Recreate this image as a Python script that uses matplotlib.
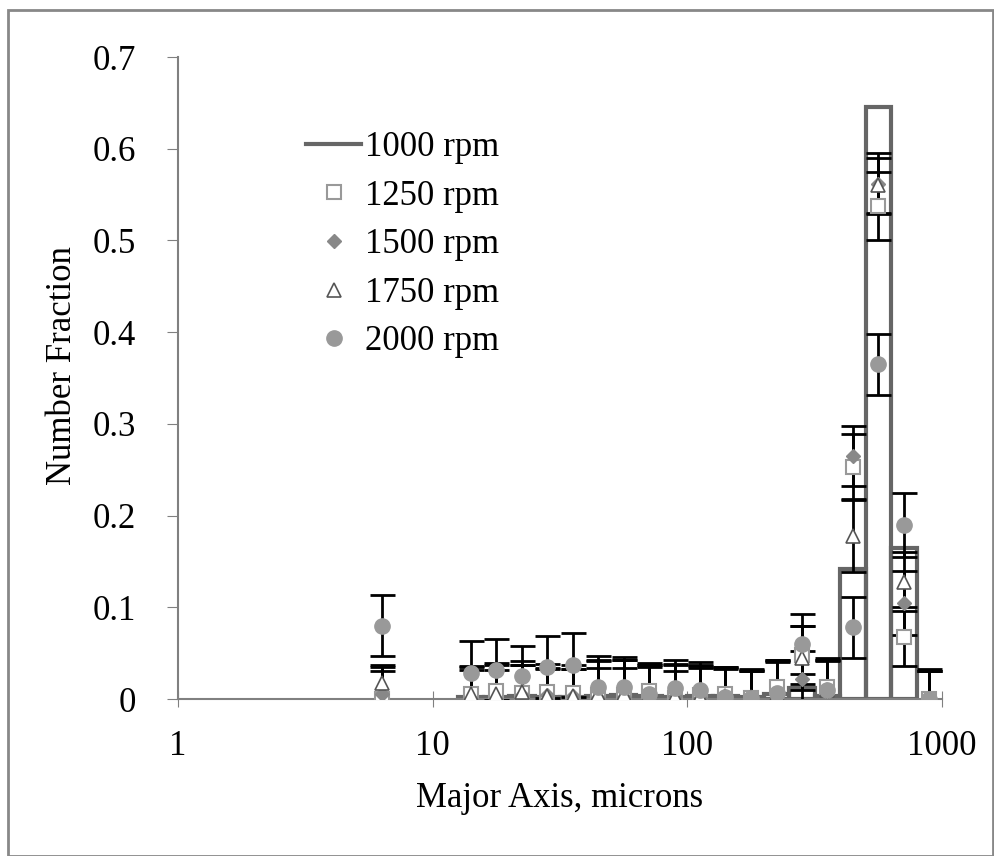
import numpy as np
import matplotlib.pyplot as plt
from matplotlib.patches import Rectangle

plt.rcParams['font.family'] = ['Liberation Serif', 'DejaVu Serif']

# bin centres (microns), log-spaced by 0.1 decade
size_bins = [6.3, 14.1, 17.8, 22.4, 28.2, 35.5, 44.7, 56.2, 70.8, 89.1,
             112, 141, 178, 224, 282, 355, 447, 562, 708, 891]

frac_1000 = [np.nan, .002, .002, .003, .002, .002, .003, .004, .003, .002,
             .003, .003, .002, .005, .012, .003, .142, .645, .165, np.nan]

frac_1250 = [.000, .006, .009, .007, .008, .007, .004, .004, .009, .001,
             .004, .005, .001, .013, .048, .013, .253, .538, .068, .000]
err_1250 = [.030, .030, .030, .030, .030, .030, .030, .030, .030, .030,
            .030, .030, .030, .030, .032, .030, .036, .037, .032, .030]

frac_1500 = [.005, .000, .000, .004, .004, .003, .001, .002, .000, .003,
             .001, .001, .000, .005, .022, .009, .265, .562, .105, .000]
err_1500 = [.030, .032, .032, .033, .030, .030, .040, .040, .035, .035,
            .035, .032, .030, .035, .030, .032, .033, .033, .035, .030]

frac_1750 = [.017, .005, .005, .008, .003, .003, .005, .005, .004, .003,
             .003, .003, .002, .006, .045, .010, .178, .560, .128, .000]
err_1750 = [.020, .030, .032, .033, .030, .030, .038, .038, .033, .034,
            .034, .032, .030, .035, .035, .032, .040, .030, .032, .030]

frac_2000 = [.080, .028, .032, .025, .035, .037, .013, .013, .006, .012,
             .010, .002, .001, .007, .060, .010, .078, .365, .190, .000]
err_2000 = [.033, .035, .033, .033, .034, .035, .034, .033, .031, .031,
            .030, .032, .032, .035, .033, .035, .033, .033, .035, .033]

x = np.array(size_bins)
lo = x / 10 ** 0.05
hi = x * 10 ** 0.05

fig = plt.figure(figsize=(9.95, 8.56), dpi=100)
fig.patches.append(Rectangle((0.008, 0.0), 0.99, 0.988, transform=fig.transFigure,
                             fill=False, edgecolor='#888888', linewidth=2))
ax = fig.add_axes([0.1789, 0.1834, 0.7678, 0.75])

# 1000 rpm as outlined histogram bars
ax.bar(lo, frac_1000, width=hi - lo, align='edge', fill=False,
       edgecolor='#666666', linewidth=3, zorder=2)
ax.plot([], [], color='#666666', lw=3, label='1000 rpm')

series = [
    (frac_1250, err_1250, dict(marker='s', ms=10, mfc='white', mec='#999999', mew=1.5), '1250 rpm'),
    (frac_1500, err_1500, dict(marker='D', ms=7, mfc='#888888', mec='#888888'), '1500 rpm'),
    (frac_1750, err_1750, dict(marker='^', ms=10, mfc='white', mec='#555555', mew=1.2), '1750 rpm'),
    (frac_2000, err_2000, dict(marker='o', ms=11, mfc='#999999', mec='#999999'), '2000 rpm'),
]
for y, e, mk, lab in series:
    ax.errorbar(x, y, yerr=e, fmt='none', ecolor='black', elinewidth=2,
                capsize=9, capthick=2, zorder=3)
for y, e, mk, lab in series:
    ax.plot(x, y, ls='none', label=lab, zorder=4, **mk)

ax.set_xscale('log')
ax.set_xlim(1, 1000)
ax.set_ylim(0, 0.7)
ax.set_xticks([1, 10, 100, 1000])
ax.set_xticklabels(['1', '10', '100', '1000'])
ax.xaxis.set_minor_locator(plt.NullLocator())
ax.set_yticks(np.arange(0, 0.71, 0.1))
ax.set_yticklabels(['0'] + [f'{v:.1f}' for v in np.arange(0.1, 0.71, 0.1)])

for s in ['top', 'right']:
    ax.spines[s].set_visible(False)
for s in ['left', 'bottom']:
    ax.spines[s].set_color('#808080')
    ax.spines[s].set_linewidth(1.5)
ax.tick_params(axis='y', direction='out', length=8, color='#808080', labelsize=25, pad=22)
ax.tick_params(axis='x', direction='inout', length=12, color='#808080', labelsize=25, pad=16)

ax.set_xlabel('Major Axis, microns', fontsize=25, labelpad=14)
ax.set_ylabel('Number Fraction', fontsize=25)
ax.yaxis.set_label_coords(-0.13, 0.52)

ax.legend(loc='upper left', bbox_to_anchor=(0.1265, 0.9335), frameon=False,
          fontsize=25, handlelength=1.6, labelspacing=0.45, handletextpad=0.1)

fig.savefig('out.png', dpi=100)
